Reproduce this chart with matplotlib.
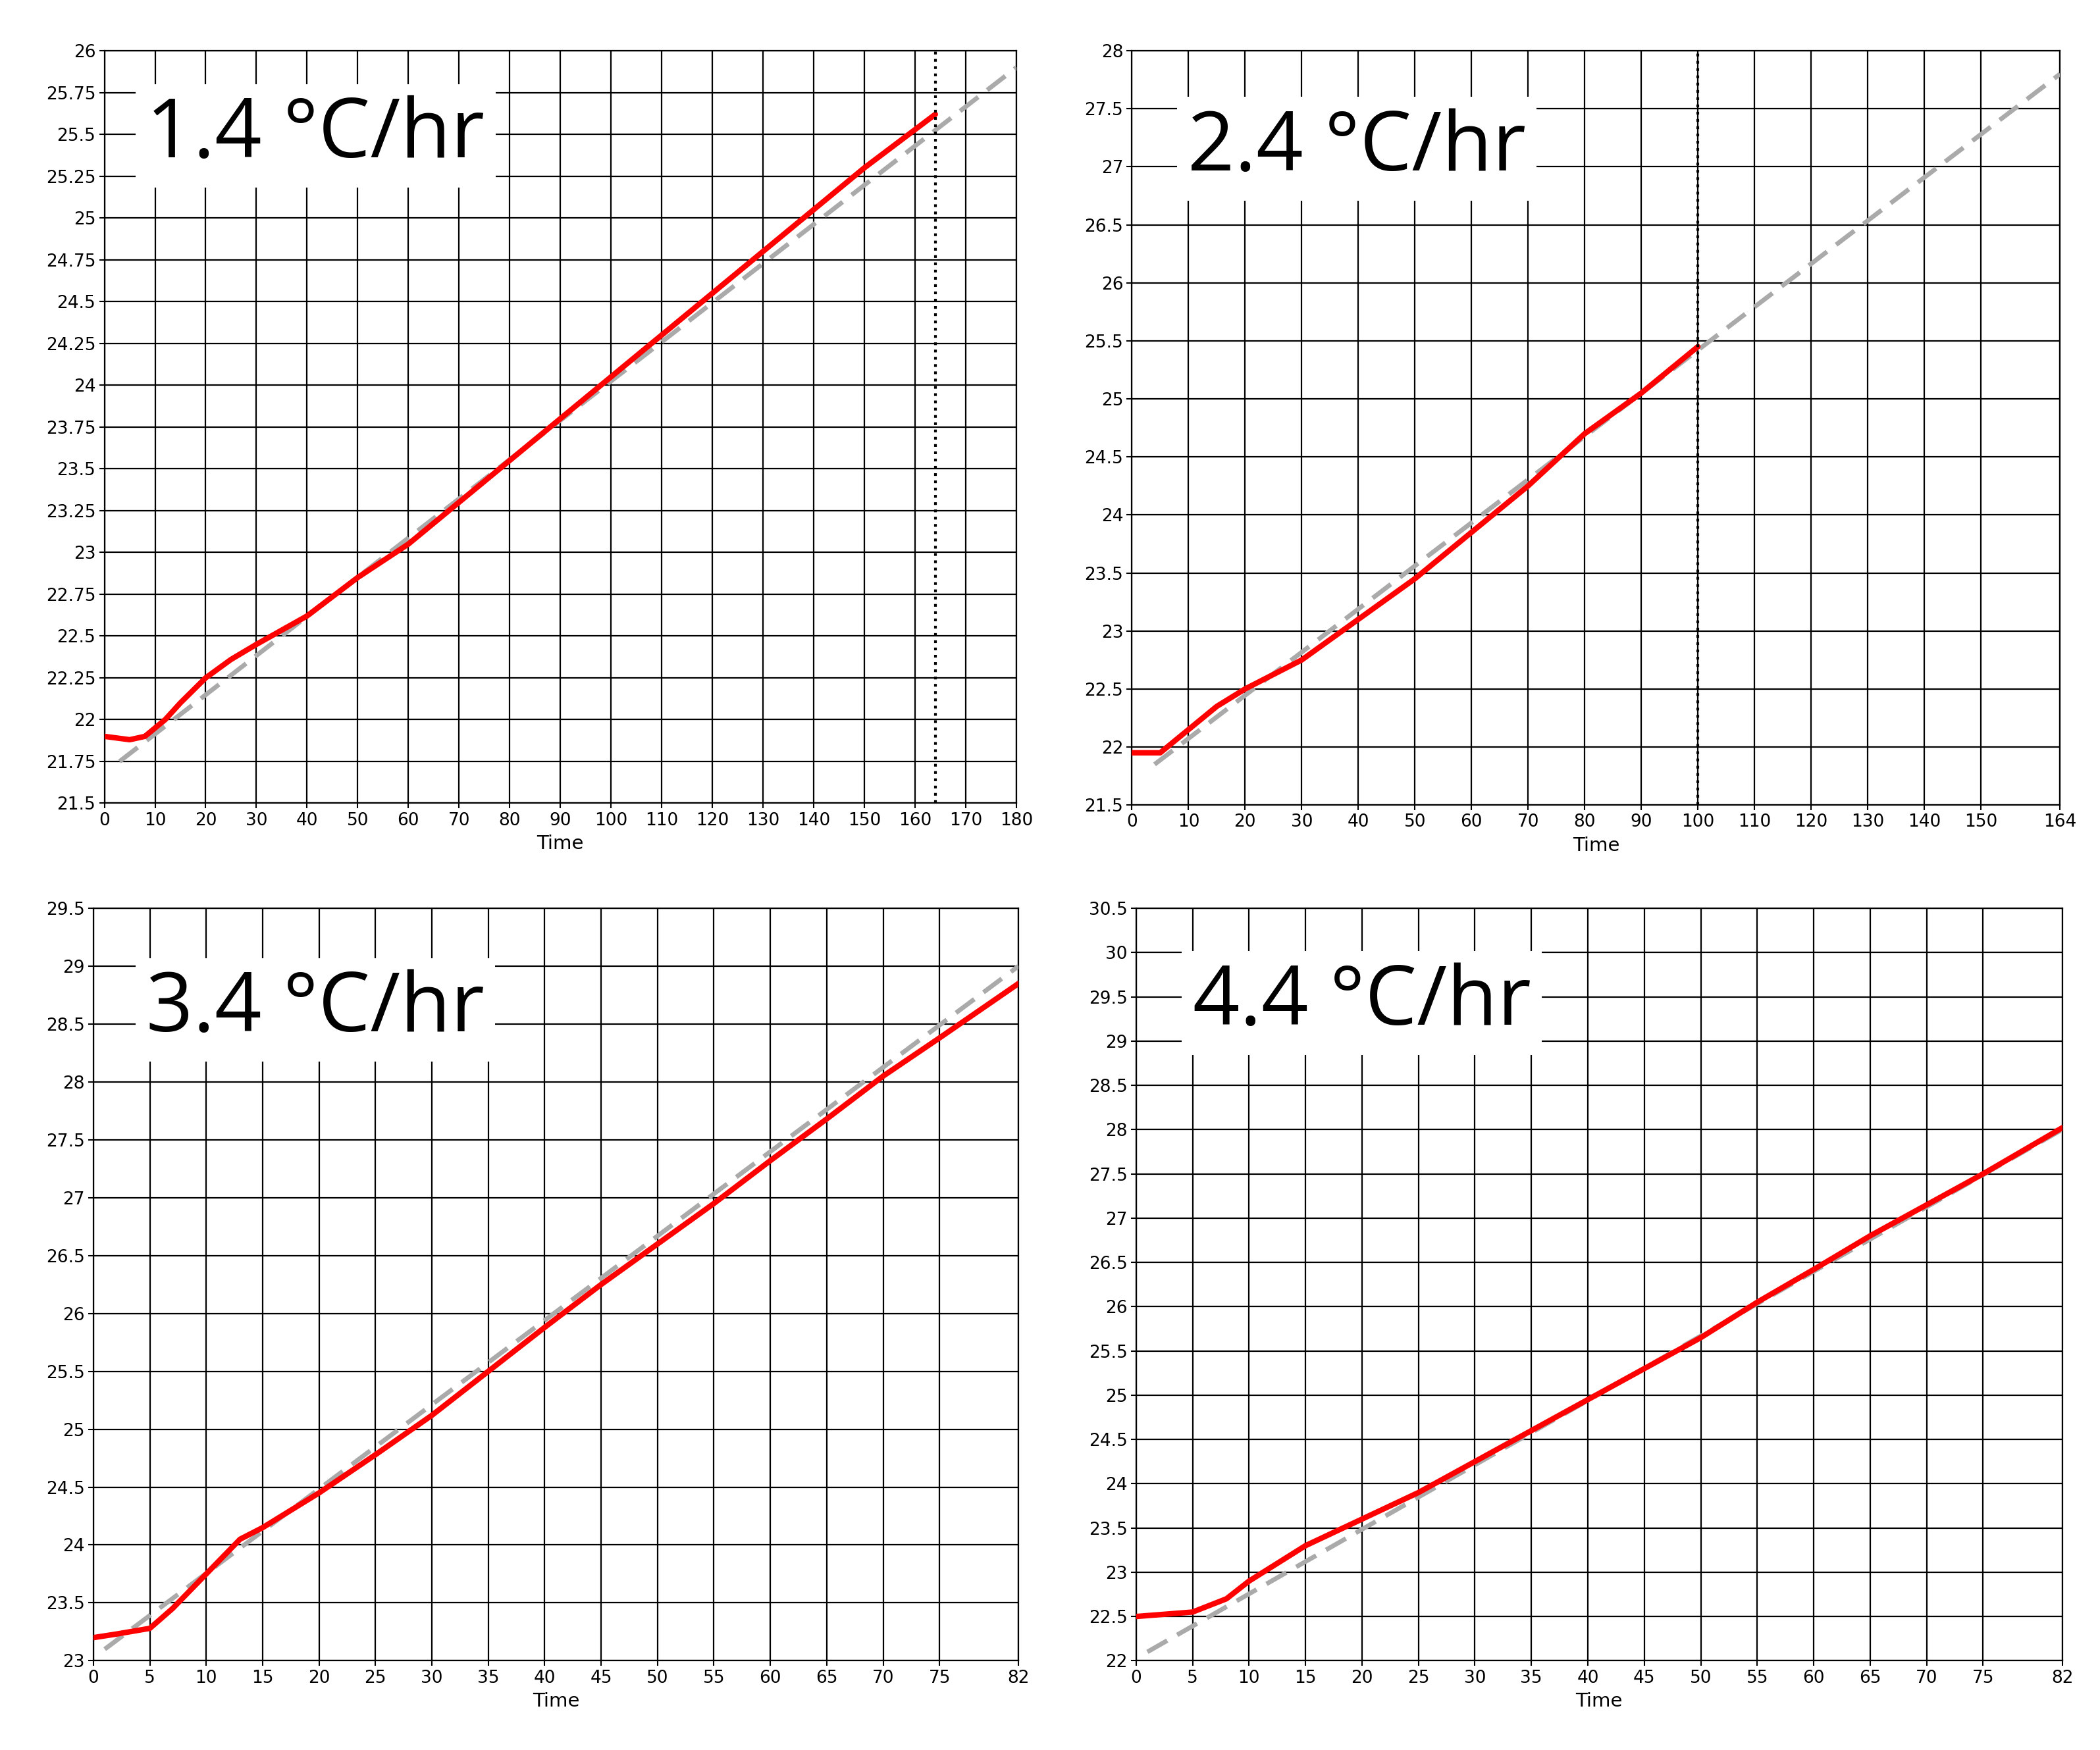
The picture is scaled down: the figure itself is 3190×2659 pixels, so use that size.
import matplotlib.pyplot as plt
import numpy as np

# panel 1: 1.4 C/hr
t1 = [0, 5, 8, 12, 15, 20, 25, 30, 40, 50, 60, 70, 80, 90, 100, 110, 120, 130, 140, 150, 164]
T1 = [21.9, 21.88, 21.9, 22.0, 22.1, 22.25, 22.36, 22.45, 22.62, 22.85, 23.05, 23.3, 23.55,
      23.8, 24.05, 24.3, 24.55, 24.8, 25.05, 25.3, 25.62]
fit1 = ([3, 180], [21.75, 25.9])

# panel 2: 2.4 C/hr
t2 = [0, 5, 10, 15, 20, 30, 40, 50, 60, 70, 80, 90, 100]
T2 = [21.95, 21.95, 22.15, 22.35, 22.5, 22.75, 23.1, 23.45, 23.85, 24.25, 24.7, 25.05, 25.45]
fit2 = ([4, 164], [21.85, 27.8])

# panel 3: 3.4 C/hr
t3 = [0, 2, 5, 7, 10, 13, 15, 20, 25, 30, 35, 40, 45, 50, 55, 60, 65, 70, 75, 82]
T3 = [23.2, 23.23, 23.28, 23.45, 23.75, 24.05, 24.15, 24.45, 24.78, 25.12, 25.5, 25.88,
      26.25, 26.6, 26.95, 27.32, 27.68, 28.05, 28.38, 28.85]
fit3 = ([1, 82], [23.1, 29.0])

# panel 4: 4.4 C/hr
t4 = [0, 5, 8, 10, 15, 20, 25, 30, 35, 40, 45, 50, 55, 60, 65, 70, 75, 82]
T4 = [22.5, 22.55, 22.7, 22.9, 23.3, 23.6, 23.9, 24.25, 24.6, 24.95, 25.3, 25.65, 26.05,
      26.42, 26.8, 27.15, 27.5, 28.02]
fit4 = ([1, 82], [22.1, 28.0])

panels = [
    dict(t=t1, T=T1, fit=fit1, label="1.4 °C/hr", xlim=(0, 180), xt=list(range(0, 181, 10)),
         ylim=(21.5, 26), yt=np.arange(21.5, 26.01, 0.25), vline=164,
         rect=[0.0497, 0.541, 0.4343, 0.430], txt=(0.046, 0.887)),
    dict(t=t2, T=T2, fit=fit2, label="2.4 °C/hr", xlim=(0, 164), xt=list(range(0, 151, 10)) + [164],
         ylim=(21.5, 28), yt=np.arange(21.5, 28.01, 0.5), vline=100,
         rect=[0.539, 0.540, 0.442, 0.431], txt=(0.06, 0.87)),
    dict(t=t3, T=T3, fit=fit3, label="3.4 °C/hr", xlim=(0, 82), xt=list(range(0, 76, 5)) + [82],
         ylim=(23, 29.5), yt=np.arange(23, 29.51, 0.5), vline=None,
         rect=[0.0445, 0.051, 0.4405, 0.430], txt=(0.057, 0.865)),
    dict(t=t4, T=T4, fit=fit4, label="4.4 °C/hr", xlim=(0, 82), xt=list(range(0, 76, 5)) + [82],
         ylim=(22, 30.5), yt=np.arange(22, 30.51, 0.5), vline=None,
         rect=[0.541, 0.051, 0.441, 0.430], txt=(0.061, 0.874)),
]

def fmt(v):
    s = f"{v:.2f}".rstrip("0").rstrip(".")
    return s

fig = plt.figure(figsize=(31.9, 26.59), dpi=100)
for p in panels:
    ax = fig.add_axes(p["rect"])
    ax.set_xlim(*p["xlim"])
    ax.set_ylim(*p["ylim"])
    ax.set_xticks(p["xt"])
    ax.set_yticks(p["yt"])
    ax.set_yticklabels([fmt(v) for v in p["yt"]])
    ax.grid(True, color="black", linewidth=1.6)
    ax.tick_params(labelsize=19, length=6, width=1.5)
    for s in ax.spines.values():
        s.set_linewidth(1.6)
    ax.set_xlabel("Time", fontsize=21, labelpad=6)
    ax.plot(p["fit"][0], p["fit"][1], color="#aaaaaa", linestyle=(0, (5, 2.5)), linewidth=5, zorder=3)
    ax.plot(p["t"], p["T"], color="red", linewidth=6, zorder=4, solid_capstyle="round")
    if p["vline"] is not None:
        ax.axvline(p["vline"], color="black", linestyle=":", linewidth=3, zorder=5)
    ax.text(p["txt"][0], p["txt"][1], p["label"], transform=ax.transAxes, fontsize=90,
            family="Open Sans", weight="medium", va="center", ha="left", zorder=6,
            bbox=dict(facecolor="white", edgecolor="none", pad=12))

fig.savefig("out.png", dpi=100)
